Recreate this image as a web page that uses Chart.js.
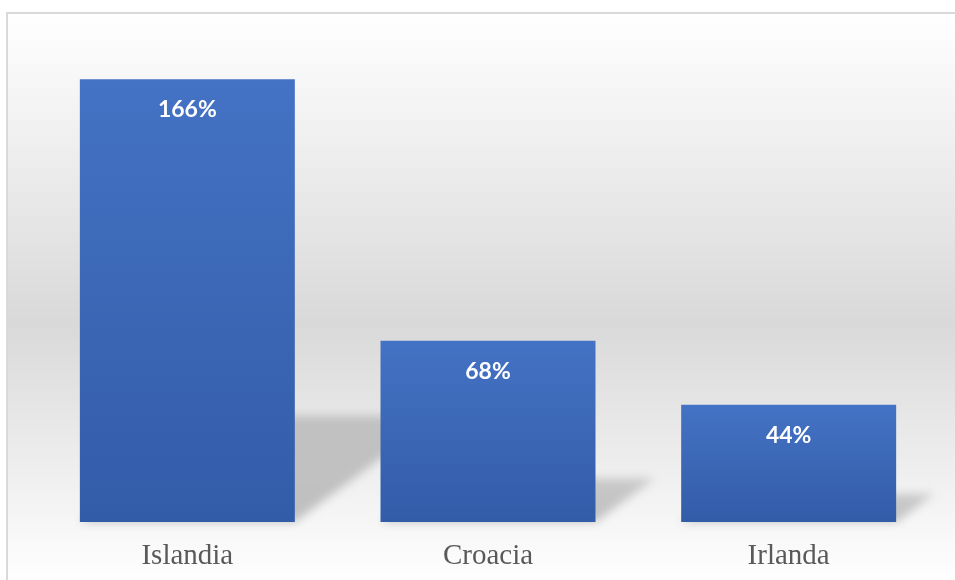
<!DOCTYPE html>
<html>
<head>
<meta charset="utf-8">
<script src="https://cdn.jsdelivr.net/npm/chart.js@4/dist/chart.umd.min.js"></script>
<style>
  html, body { margin: 0; padding: 0; background: #fff; }
  #wrap { width: 955px; height: 580px; }
</style>
</head>
<body>
<div id="wrap"><canvas id="chart" width="955" height="580"></canvas></div>
<script>
const paises = ['Islandia', 'Croacia', 'Irlanda'];
const porcentajes = [166, 68, 44];

// fondo con marco y degradado gris
const fondo = {
  id: 'fondo',
  beforeDraw(chart) {
    const { ctx, width, height } = chart;
    ctx.save();
    ctx.fillStyle = '#ffffff';
    ctx.fillRect(0, 0, width, height);
    const top = 13, left = 7;
    const g = ctx.createLinearGradient(0, top, 0, height + 5);
    g.addColorStop(0, '#ffffff');
    g.addColorStop(0.54, '#d9d9d9');
    g.addColorStop(1, '#ffffff');
    ctx.fillStyle = g;
    ctx.fillRect(left, top, width - left + 5, height - top + 5);
    ctx.strokeStyle = '#d9d9d9';
    ctx.lineWidth = 2;
    ctx.beginPath();
    ctx.moveTo(left, height + 5);
    ctx.lineTo(left, top);
    ctx.lineTo(width + 5, top);
    ctx.stroke();
    ctx.restore();
  }
};

// sombra en perspectiva detrás de cada barra
const sombras = {
  id: 'sombras',
  beforeDatasetsDraw(chart) {
    const { ctx } = chart;
    const meta = chart.getDatasetMeta(0);
    ctx.save();
    ctx.filter = 'blur(5px)';
    meta.data.forEach(bar => {
      const h = (bar.base - bar.y) * 0.24;
      const dx = h * 1.35;
      const l = bar.x - bar.width / 2, r = bar.x + bar.width / 2;
      const g = ctx.createLinearGradient(0, bar.base, 0, bar.base - h);
      g.addColorStop(0, 'rgba(0,0,0,0.22)');
      g.addColorStop(1, 'rgba(0,0,0,0.16)');
      ctx.fillStyle = g;
      ctx.beginPath();
      ctx.moveTo(l, bar.base);
      ctx.lineTo(r, bar.base);
      ctx.lineTo(r + dx, bar.base - h);
      ctx.lineTo(l + dx, bar.base - h);
      ctx.closePath();
      ctx.fill();
    });
    ctx.restore();
  }
};

// etiquetas de valor dentro de las barras
const etiquetas = {
  id: 'etiquetas',
  afterDatasetsDraw(chart) {
    const { ctx } = chart;
    const meta = chart.getDatasetMeta(0);
    ctx.save();
    ctx.fillStyle = '#ffffff';
    ctx.font = 'bold 23px Lato, "Open Sans", sans-serif';
    ctx.textAlign = 'center';
    ctx.textBaseline = 'alphabetic';
    meta.data.forEach((bar, i) => {
      ctx.fillText(porcentajes[i] + '%', bar.x, bar.y + 38);
    });
    ctx.restore();
  }
};

function degradadoBarra(context) {
  const chart = context.chart;
  const y = chart.scales && chart.scales.y;
  if (!y || context.dataIndex === undefined) return '#3c66b6';
  const top = y.getPixelForValue(porcentajes[context.dataIndex]);
  const bottom = y.getPixelForValue(0);
  if (!isFinite(top) || !isFinite(bottom)) return '#3c66b6';
  const g = chart.ctx.createLinearGradient(0, top, 0, bottom);
  g.addColorStop(0, '#4472c4');
  g.addColorStop(1, '#335ca8');
  return g;
}

new Chart(document.getElementById('chart'), {
  type: 'bar',
  data: {
    labels: paises,
    datasets: [{
      data: porcentajes,
      backgroundColor: degradadoBarra,
      borderWidth: 0,
      categoryPercentage: 1,
      barPercentage: 0.715
    }]
  },
  options: {
    responsive: false,
    animation: false,
    layout: { padding: { left: 37, right: 16, top: 42, bottom: 0 } },
    plugins: { legend: { display: false }, tooltip: { enabled: false } },
    scales: {
      x: {
        grid: { display: false, drawTicks: false },
        border: { display: false },
        ticks: {
          color: '#595959',
          padding: 17,
          font: { family: '"Liberation Serif", "Times New Roman", serif', size: 29 }
        },
        afterFit(scale) { scale.height = 58; }
      },
      y: { display: false, min: 0, max: 180 }
    }
  },
  plugins: [fondo, sombras, etiquetas]
});
</script>
</body>
</html>
